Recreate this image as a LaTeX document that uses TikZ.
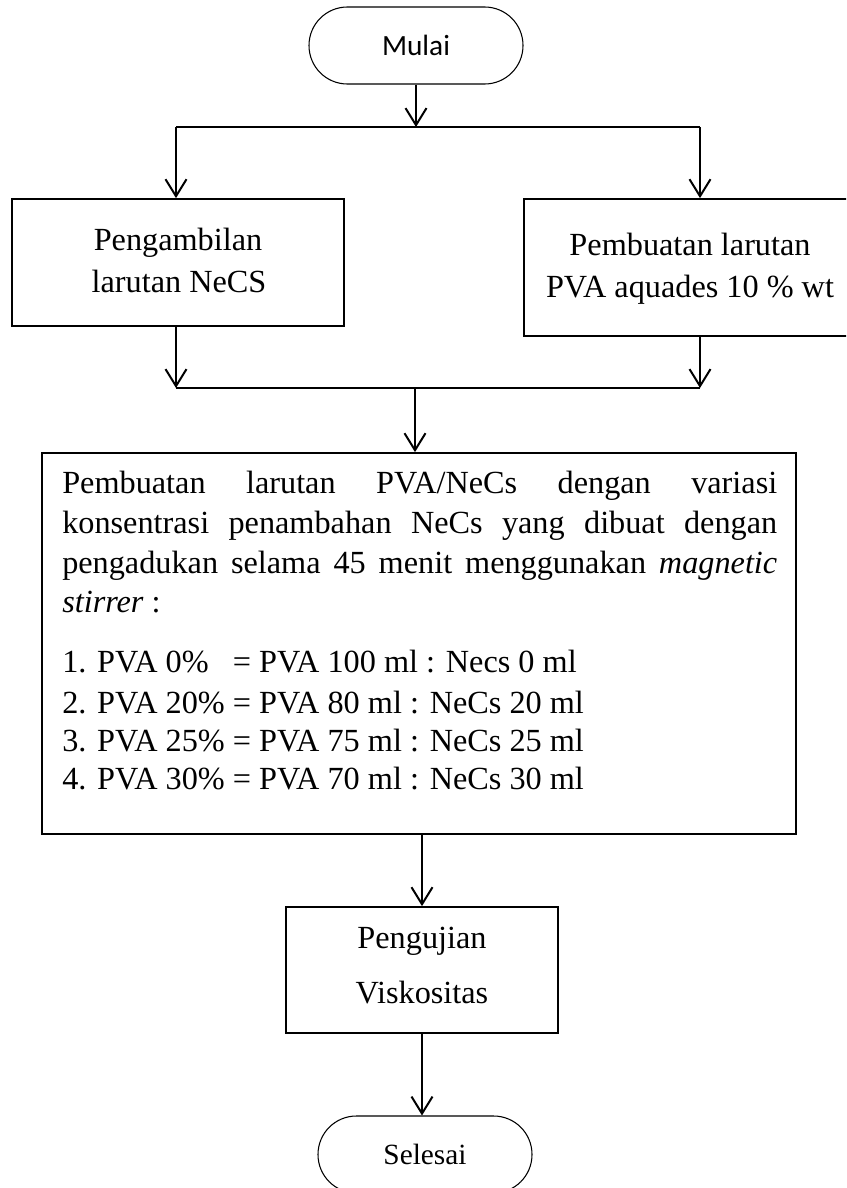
\documentclass[tikz,border=0pt]{standalone}
\usepackage{fontspec}
\setmainfont{Liberation Serif}
\newfontfamily\calib{Carlito}
\usetikzlibrary{arrows.meta}
\newcommand\bigtxt{\fontsize{24.2pt}{30pt}\selectfont}
\newcommand\termtxt{\fontsize{22pt}{26pt}\selectfont}
\newcommand\jline[1]{\makebox[536.25pt][s]{#1}}
\begin{document}
\begin{tikzpicture}[x=0.75pt,y=-0.75pt,
  box/.style={draw, line width=1.3pt, inner sep=0pt},
  term/.style={draw, line width=0.8pt, rounded corners=28.8pt, inner sep=0pt,
    minimum width=160.5pt, minimum height=57.75pt, font=\termtxt},
  conn/.style={line width=1.5pt},
  arr/.style={conn, -{Straight Barb[length=12.75pt,width=15.75pt,line width=1.5pt]}},
  txt/.style={anchor=base, inner sep=0pt, font=\bigtxt},
  ltxt/.style={anchor=base west, inner sep=0pt, font=\bigtxt}]
\clip (0,0) rectangle (846,1188);
\fill[white] (0,0) rectangle (846,1188);

% terminals
\node[term, font=\termtxt\calib] (mulai) at (416,45.5) {Mulai};
\node[term] (selesai) at (425,1154.5) {Selesai};

% boxes
\node[box, minimum width=249pt, minimum height=95.25pt] (left) at (178,262.5) {};
\node[box, minimum width=264pt, minimum height=102.75pt] (right) at (700,267.5) {};
\node[box, minimum width=565.5pt, minimum height=285.75pt] (main) at (419,643.5) {};
\node[box, minimum width=204pt, minimum height=94.5pt] (peng) at (422,970) {};

% box texts
\node[txt] (lt1) at (178,250) {Pengambilan};
\node[txt] (lt2) at (179,292) {larutan NeCS};
\node[txt] (rt1) at (690,255) {Pembuatan larutan};
\node[txt] (rt2) at (690,297) {PVA aquades 10 \% wt};
\node[txt] (pt1) at (422,948) {Pengujian};
\node[txt] (pt2) at (422,1003) {Viskositas};

\node[ltxt] (m1) at (62,493) {\jline{Pembuatan larutan PVA/NeCs dengan variasi}};
\node[ltxt] (m2) at (62,533) {\jline{konsentrasi penambahan NeCs yang dibuat dengan}};
\node[ltxt] (m3) at (62,573) {\jline{pengadukan selama 45 menit menggunakan \textit{magnetic}}};
\node[ltxt] (m4) at (62,612) {\textit{stirrer} :};
\node[ltxt] (m5) at (62,672) {1. PVA 0\%\phantom{0} = PVA 100 ml : Necs 0 ml};
\node[ltxt] (m6) at (62,713) {2. PVA 20\% = PVA 80 ml : NeCs 20 ml};
\node[ltxt] (m7) at (62,751) {3. PVA 25\% = PVA 75 ml : NeCs 25 ml};
\node[ltxt] (m8) at (62,789) {4. PVA 30\% = PVA 70 ml : NeCs 30 ml};

% connectors
\coordinate (jt) at (416,127);
\coordinate (jl) at (176,127);
\coordinate (jr) at (700,127);
\coordinate (ml) at (176,388);
\coordinate (mr) at (700,388);
\coordinate (mc) at (415,388);

\draw[arr] (mulai.south) -- (jt);
\draw[conn] (jl) -- (jr);
\draw[arr] (jl) -- (jl |- left.north);
\draw[arr] (jr) -- (jr |- right.north);
\draw[arr] (left.south -| ml) -- (ml);
\draw[arr] (right.south -| mr) -- (mr);
\draw[conn] (ml) -- (mr);
\draw[arr] (mc) -- (mc |- main.north);
\draw[arr] (peng.north |- main.south) -- (peng.north);
\draw[arr] (peng.south) -- (peng.south |- selesai.north);
\end{tikzpicture}
\end{document}
